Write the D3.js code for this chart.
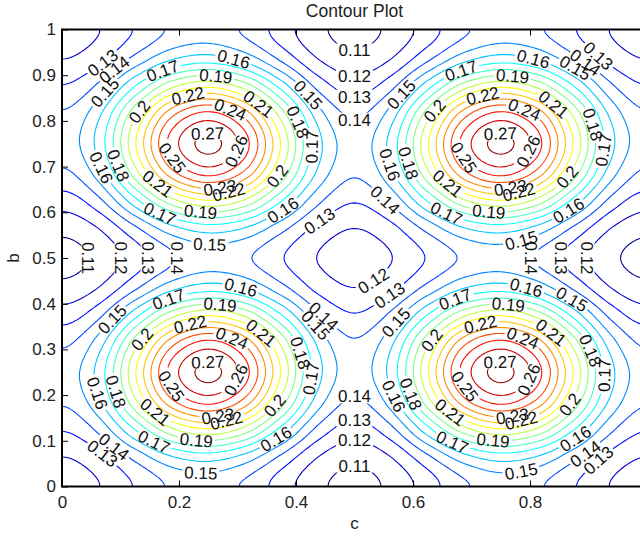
<!DOCTYPE html>
<html>
<head>
<meta charset="utf-8">
<script src="https://cdn.jsdelivr.net/npm/d3@7"></script>
<style>
body { margin: 0; background: #fff; }
text { font-family: "Liberation Sans", Arial, Helvetica, sans-serif; }
</style>
</head>
<body>
<div id="chart"></div>
<script>
// surface values, one row per b (b = 0 at the bottom), columns along c, step 1/16
var gridStep = 1 / 16;
var zRows = [
	[0.1150, 0.1197, 0.1308, 0.1416, 0.1450, 0.1385, 0.1252, 0.1123, 0.1070, 0.1123, 0.1252, 0.1385, 0.1450, 0.1416, 0.1308, 0.1197, 0.1150],
	[0.1197, 0.1264, 0.1425, 0.1582, 0.1637, 0.1553, 0.1372, 0.1196, 0.1123, 0.1196, 0.1372, 0.1553, 0.1637, 0.1582, 0.1425, 0.1264, 0.1197],
	[0.1308, 0.1425, 0.1705, 0.1982, 0.2090, 0.1961, 0.1665, 0.1372, 0.1252, 0.1372, 0.1665, 0.1961, 0.2090, 0.1982, 0.1705, 0.1425, 0.1308],
	[0.1416, 0.1582, 0.1982, 0.2381, 0.2543, 0.2369, 0.1961, 0.1553, 0.1385, 0.1553, 0.1961, 0.2369, 0.2543, 0.2381, 0.1982, 0.1582, 0.1416],
	[0.1450, 0.1637, 0.2090, 0.2543, 0.2730, 0.2543, 0.2090, 0.1637, 0.1450, 0.1637, 0.2090, 0.2543, 0.2730, 0.2543, 0.2090, 0.1637, 0.1450],
	[0.1385, 0.1553, 0.1961, 0.2369, 0.2543, 0.2381, 0.1982, 0.1582, 0.1416, 0.1582, 0.1982, 0.2381, 0.2543, 0.2369, 0.1961, 0.1553, 0.1385],
	[0.1252, 0.1372, 0.1665, 0.1961, 0.2090, 0.1982, 0.1705, 0.1425, 0.1308, 0.1425, 0.1705, 0.1982, 0.2090, 0.1961, 0.1665, 0.1372, 0.1252],
	[0.1123, 0.1196, 0.1372, 0.1553, 0.1637, 0.1582, 0.1425, 0.1264, 0.1197, 0.1264, 0.1425, 0.1582, 0.1637, 0.1553, 0.1372, 0.1196, 0.1123],
	[0.1070, 0.1123, 0.1252, 0.1385, 0.1450, 0.1416, 0.1308, 0.1197, 0.1150, 0.1197, 0.1308, 0.1416, 0.1450, 0.1385, 0.1252, 0.1123, 0.1070],
	[0.1123, 0.1196, 0.1372, 0.1553, 0.1637, 0.1582, 0.1425, 0.1264, 0.1197, 0.1264, 0.1425, 0.1582, 0.1637, 0.1553, 0.1372, 0.1196, 0.1123],
	[0.1252, 0.1372, 0.1665, 0.1961, 0.2090, 0.1982, 0.1705, 0.1425, 0.1308, 0.1425, 0.1705, 0.1982, 0.2090, 0.1961, 0.1665, 0.1372, 0.1252],
	[0.1385, 0.1553, 0.1961, 0.2369, 0.2543, 0.2381, 0.1982, 0.1582, 0.1416, 0.1582, 0.1982, 0.2381, 0.2543, 0.2369, 0.1961, 0.1553, 0.1385],
	[0.1450, 0.1637, 0.2090, 0.2543, 0.2730, 0.2543, 0.2090, 0.1637, 0.1450, 0.1637, 0.2090, 0.2543, 0.2730, 0.2543, 0.2090, 0.1637, 0.1450],
	[0.1416, 0.1582, 0.1982, 0.2381, 0.2543, 0.2369, 0.1961, 0.1553, 0.1385, 0.1553, 0.1961, 0.2369, 0.2543, 0.2381, 0.1982, 0.1582, 0.1416],
	[0.1308, 0.1425, 0.1705, 0.1982, 0.2090, 0.1961, 0.1665, 0.1372, 0.1252, 0.1372, 0.1665, 0.1961, 0.2090, 0.1982, 0.1705, 0.1425, 0.1308],
	[0.1197, 0.1264, 0.1425, 0.1582, 0.1637, 0.1553, 0.1372, 0.1196, 0.1123, 0.1196, 0.1372, 0.1553, 0.1637, 0.1582, 0.1425, 0.1264, 0.1197],
	[0.1150, 0.1197, 0.1308, 0.1416, 0.1450, 0.1385, 0.1252, 0.1123, 0.1070, 0.1123, 0.1252, 0.1385, 0.1450, 0.1416, 0.1308, 0.1197, 0.1150]
];
var levels = [0.11, 0.12, 0.13, 0.14, 0.15, 0.16, 0.17, 0.18, 0.19, 0.2, 0.21, 0.22, 0.23, 0.24, 0.25, 0.26, 0.27];
var xTicks = [0, 0.2, 0.4, 0.6, 0.8, 1];
var yTicks = [0, 0.1, 0.2, 0.3, 0.4, 0.5, 0.6, 0.7, 0.8, 0.9, 1];

var width = 640, height = 538;
var margin = {top: 29.5, left: 62};
var plotW = 585, plotH = 457;

var x = d3.scaleLinear().domain([0, 1]).range([margin.left, margin.left + plotW]);
var y = d3.scaleLinear().domain([0, 1]).range([margin.top + plotH, margin.top]);

// smooth reading of the grid between its nodes (Catmull-Rom), mirrored at the edges
function cr(p0, p1, p2, p3, t){
	return 0.5 * (2*p1 + (p2 - p0)*t + (2*p0 - 5*p1 + 4*p2 - p3)*t*t + (3*p1 - p0 - 3*p2 + p3)*t*t*t);
}
function refl(i){
	var n = zRows.length - 1;
	if(i < 0) i = -i;
	if(i > n) i = 2*n - i;
	return i;
}
function sample(cx, by){
	var gx = cx / gridStep, gy = by / gridStep;
	var ix = Math.floor(gx), iy = Math.floor(gy);
	var tx = gx - ix, ty = gy - iy;
	var r = [];
	for(var m = -1; m <= 2; m++){
		var row = zRows[refl(iy + m)];
		r.push(cr(row[refl(ix-1)], row[refl(ix)], row[refl(ix+1)], row[refl(ix+2)], tx));
	}
	return cr(r[0], r[1], r[2], r[3], ty);
}

var cells = 160, pad = 2;
var M = cells + 1 + 2*pad;
var values = new Array(M * M);
for(var j = 0; j < M; j++){
	for(var k = 0; k < M; k++){
		values[j*M + k] = sample((k - pad) / cells, (j - pad) / cells);
	}
}
var zmin = d3.min(values), zmax = d3.max(values);

function jet(v){
	var t = (v - zmin) / (zmax - zmin);
	function c(a){ return Math.round(255 * Math.max(0, Math.min(1, a))); }
	var r = c(Math.min(4*t - 1.5, -4*t + 4.5));
	var g = c(Math.min(4*t - 0.5, -4*t + 3.5));
	var b = c(Math.min(4*t + 0.5, -4*t + 2.5));
	return 'rgb(' + [r, g, b] + ')';
}

var contours = d3.contours().size([M, M]).thresholds(levels)(values);

function toData(p){
	return [(p[0] - 0.5 - pad) / cells, (p[1] - 0.5 - pad) / cells];
}

var svg = d3.select('#chart').append('svg')
	.attr('width', width).attr('height', height);

var defs = svg.append('defs');
defs.append('clipPath').attr('id', 'plot-clip')
	.append('rect')
	.attr('x', margin.left).attr('y', margin.top)
	.attr('width', plotW).attr('height', plotH);

var plot = svg.append('g').attr('clip-path', 'url(#plot-clip)');
var labelLayer = svg.append('g');

var line = d3.line();
var spacing = 230;
var visRight = width - 18;

contours.forEach(function(cont, li){
	var rings = [];
	cont.coordinates.forEach(function(poly){
		poly.forEach(function(ring){ rings.push(ring.map(toData)); });
	});

	// visible pieces of each ring, in pixels, used to place the labels
	var pieces = [];
	rings.forEach(function(ring){
		var cur = [], cut = false;
		ring.forEach(function(d){
			var px = x(d[0]), py = y(d[1]);
			if(d[0] >= 0.01 && px <= visRight && d[1] >= 0.012 && d[1] <= 0.988){
				cur.push([px, py]);
			}
			else {
				cut = true;
				if(cur.length){ pieces.push({pts: cur, closed: false}); cur = []; }
			}
		});
		if(cur.length) pieces.push({pts: cur, closed: !cut});
	});

	var maskId = 'm' + li;
	var mask = defs.append('mask').attr('id', maskId)
		.attr('maskUnits', 'userSpaceOnUse')
		.attr('x', 0).attr('y', 0).attr('width', width).attr('height', height);
	mask.append('rect').attr('width', width).attr('height', height).attr('fill', 'white');

	plot.append('path')
		.attr('d', rings.map(function(r){
			return line(r.map(function(d){ return [x(d[0]), y(d[1])]; }));
		}).join(''))
		.attr('fill', 'none')
		.attr('stroke', jet(cont.value))
		.attr('stroke-width', 1.1)
		.attr('mask', 'url(#' + maskId + ')');

	var txt = String(+cont.value.toFixed(2));
	var phase = (li * 0.618) % 1;
	pieces.forEach(function(piece){
		var pts = piece.pts;
		var cum = [0];
		for(var i = 1; i < pts.length; i++){
			cum.push(cum[i-1] + Math.hypot(pts[i][0] - pts[i-1][0], pts[i][1] - pts[i-1][1]));
		}
		var L = cum[cum.length - 1];
		if(L < 50) return;
		var n = Math.max(1, Math.round(L / spacing));
		function at(s){
			if(piece.closed) s = ((s % L) + L) % L;
			var i = d3.bisectLeft(cum, s);
			if(i <= 0) return pts[0];
			if(i >= pts.length) return pts[pts.length - 1];
			var f = (s - cum[i-1]) / (cum[i] - cum[i-1] || 1);
			return [pts[i-1][0] + f*(pts[i][0] - pts[i-1][0]), pts[i-1][1] + f*(pts[i][1] - pts[i-1][1])];
		}
		for(var q = 0; q < n; q++){
			var s = piece.closed ? (q + phase) * L / n : (q + 0.5) * L / n;
			var p = at(s), a = at(s - 8), b = at(s + 8);
			var ang = Math.atan2(b[1] - a[1], b[0] - a[0]) * 180 / Math.PI;
			if(ang > 90) ang -= 180;
			if(ang < -90) ang += 180;
			var t = labelLayer.append('text')
				.attr('transform', 'translate(' + p + ') rotate(' + ang + ')')
				.attr('text-anchor', 'middle')
				.attr('dy', '0.36em')
				.attr('font-size', 17)
				.attr('fill', '#111')
				.text(txt);
			var w = t.node().getComputedTextLength() + 4;
			mask.append('rect')
				.attr('x', -w/2).attr('y', -7)
				.attr('width', w).attr('height', 14)
				.attr('transform', 'translate(' + p + ') rotate(' + ang + ')')
				.attr('fill', 'black');
		}
	});
});

// axes
var axisG = svg.append('g');
axisG.append('g')
	.attr('transform', 'translate(0,' + (margin.top + plotH) + ')')
	.call(d3.axisBottom(x).tickValues(xTicks).tickSize(-6).tickSizeOuter(0).tickPadding(9.5)
		.tickFormat(function(d){ return String(d); }));
axisG.append('g')
	.attr('transform', 'translate(' + margin.left + ',0)')
	.call(d3.axisLeft(y).tickValues(yTicks).tickSize(-6).tickSizeOuter(0).tickPadding(6)
		.tickFormat(function(d){ return String(d); }));
axisG.append('g')
	.attr('transform', 'translate(0,' + margin.top + ')')
	.call(d3.axisTop(x).tickValues(xTicks).tickSize(-6).tickSizeOuter(0).tickFormat(''));
axisG.append('g')
	.attr('transform', 'translate(' + (margin.left + plotW) + ',0)')
	.call(d3.axisRight(y).tickValues(yTicks).tickSize(-6).tickSizeOuter(0).tickFormat(''));
axisG.selectAll('.domain').remove();
axisG.selectAll('.tick line').attr('stroke', '#000');
axisG.selectAll('.tick text')
	.attr('font-family', '"Liberation Sans", Arial, sans-serif')
	.attr('font-size', 17)
	.attr('fill', '#222');

svg.append('rect')
	.attr('x', margin.left).attr('y', margin.top)
	.attr('width', plotW).attr('height', plotH)
	.attr('fill', 'none')
	.attr('stroke', '#000')
	.attr('stroke-width', 2);

svg.append('text')
	.attr('x', margin.left + plotW/2).attr('y', 17)
	.attr('text-anchor', 'middle')
	.attr('font-size', 17.5)
	.attr('fill', '#222')
	.text('Contour Plot');

svg.append('text')
	.attr('x', margin.left + plotW/2).attr('y', 529)
	.attr('text-anchor', 'middle')
	.attr('font-size', 17)
	.attr('fill', '#222')
	.text('c');

svg.append('text')
	.attr('transform', 'translate(19,' + (margin.top + plotH/2) + ') rotate(-90)')
	.attr('text-anchor', 'middle')
	.attr('font-size', 17)
	.attr('fill', '#222')
	.text('b');
</script>
</body>
</html>
